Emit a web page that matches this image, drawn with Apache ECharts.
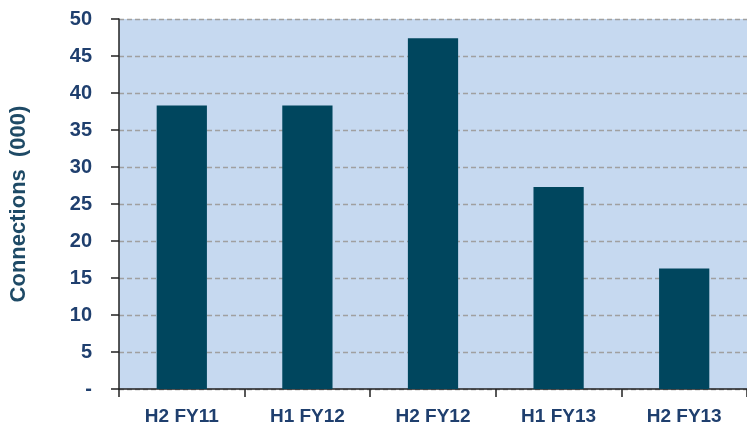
<!DOCTYPE html>
<html><head><meta charset="utf-8">
<script src="https://cdn.jsdelivr.net/npm/echarts@6/dist/echarts.min.js"></script>
<style>html,body{margin:0;padding:0;background:#fff}#c{width:747px;height:431px}</style>
</head><body><div id="c"></div>
<script>
const categories = ['H2 FY11', 'H1 FY12', 'H2 FY12', 'H1 FY13', 'H2 FY13'];
const connections = [38.3, 38.3, 47.4, 27.3, 16.3];
const yAxisTitle = 'Connections  (000)';

const chart = echarts.init(document.getElementById('c'));
chart.setOption({
  animation: false,
  grid: { left: 116, right: 0, top: 19, bottom: 42, show: true, backgroundColor: '#C6D9F0', borderWidth: 0 },
  xAxis: {
    type: 'category', data: categories,
    axisLine: { lineStyle: { color: '#222', width: 1.5 } },
    axisTick: { show: true, alignWithLabel: false, length: 8, lineStyle: { color: '#222', width: 1.5 } },
    axisLabel: { color: '#1F3F6E', fontFamily: 'Liberation Sans, Arial', fontWeight: 'bold', fontSize: 19, margin: 18 }
  },
  yAxis: {
    type: 'value', min: 0, max: 50, interval: 5,
    name: yAxisTitle, nameLocation: 'middle', nameGap: 89, nameRotate: 90,
    nameTextStyle: { color: '#1E4A66', fontFamily: 'Liberation Sans, Arial', fontWeight: 'bold', fontSize: 22 },
    axisLine: { show: true, lineStyle: { color: '#222', width: 1.5 } },
    axisTick: { show: true, length: 8, lineStyle: { color: '#222', width: 1.5 } },
    axisLabel: { color: '#1F3F6E', fontFamily: 'Liberation Sans, Arial', fontWeight: 'bold', fontSize: 20, margin: 27,
      formatter: v => v === 0 ? '-' : String(v) },
    splitLine: { show: true, lineStyle: { color: '#A0A0A0', type: [5, 3], width: 1.3 } }
  },
  series: [{
    type: 'bar', data: connections, barWidth: '40%',
    itemStyle: { color: '#00465E', borderWidth: 0 }
  }]
});
</script></body></html>
